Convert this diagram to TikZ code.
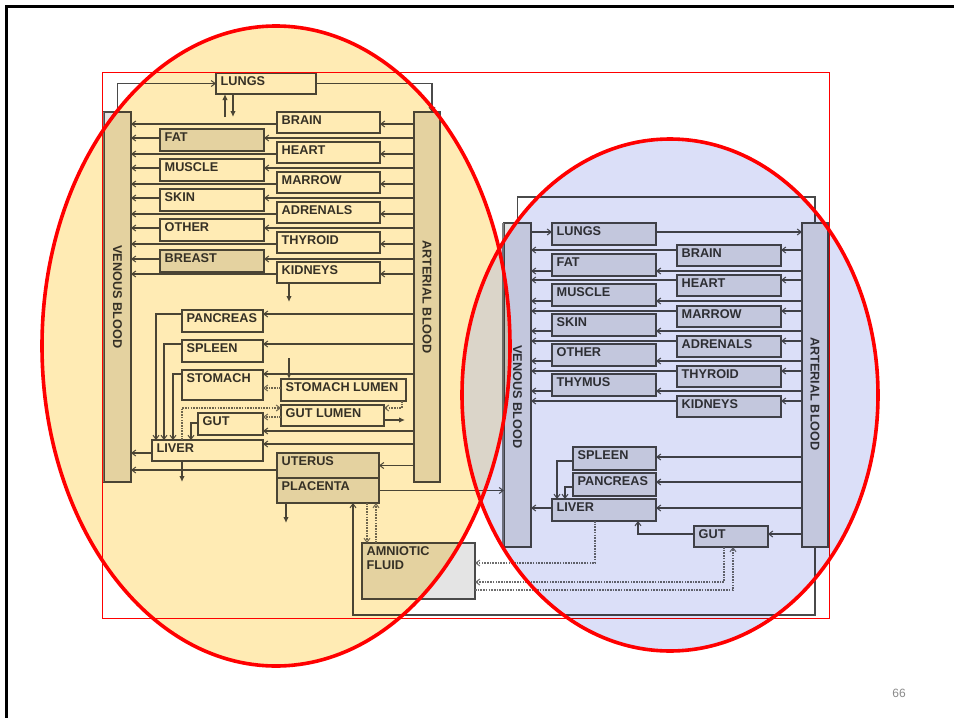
\documentclass[tikz,border=0pt]{standalone}
\usepackage{fontspec}
\setmainfont{Liberation Sans}
\usetikzlibrary{arrows.meta}
\definecolor{lc}{HTML}{4A4A4A}
\definecolor{tc}{HTML}{353535}
\definecolor{bf}{HTML}{E4E4E4}
\definecolor{yel}{HTML}{FFEBB4}
\definecolor{blu}{HTML}{DBDFF8}
\definecolor{ovl}{HTML}{FFF4CF}
\definecolor{pg}{HTML}{8A8A8A}
\newcommand\obox[7][]{\node[bx,minimum width=#5pt,minimum height=#6pt,label={[lab]north west:#7},#1] (#2) at (#3,#4) {};}
\newcommand\lellipse{(276,346) ellipse [x radius=234pt, y radius=320pt]}
\tikzset{
  bx/.style={draw=lc, line width=1.4pt, anchor=north west, inner sep=0pt, outer sep=0pt},
  lab/.style={anchor=north west, inner sep=0pt, xshift=4.5pt, yshift=-3.5pt, font=\bfseries\fontsize{12.7}{13.5}\selectfont, text=tc, align=left},
  vlab/.style={rotate=-90, inner sep=0pt, font=\bfseries\fontsize{12.7}{13.5}\selectfont, text=tc},
  filled/.style={fill=bf},
  ln/.style={draw=lc, line width=1.3pt},
  arr/.style={ln, -{Straight Barb[length=4pt,width=6pt,line width=1pt]}},
  farr/.style={ln, -{Latex[length=6pt,width=5.5pt]}},
  dot/.style={draw=lc!80, line width=1.4pt, dash pattern=on 1.6pt off 1.1pt},
  darr/.style={dot, -{Straight Barb[length=4pt,width=6pt,line width=1pt]}},
}
\begin{document}
\begin{tikzpicture}[x=1pt,y=-1pt]
\useasboundingbox (0,0) rectangle (954,718);
\fill[white] (0,0) rectangle (954,718);

% ---------------- maternal model ----------------
\node[bx, filled, minimum width=27pt, minimum height=370pt] (mven) at (104,112) {};
\node[bx, filled, minimum width=26pt, minimum height=370pt] (mart) at (414,112) {};
\node[vlab] (mvenlab) at (mven.center) {VENOUS BLOOD};
\node[vlab] (martlab) at (mart.center) {ARTERIAL BLOOD};
\draw[draw=lc!70, line width=2.5pt] ([xshift=-1pt]mven.north west) -- ([xshift=-1pt]mven.south west);

\obox{mlung}{216}{73}{100}{21}{LUNGS}

\obox{mbrain}{277}{112}{103}{21}{BRAIN}
\obox{mheart}{277}{142}{103}{21}{HEART}
\obox{mmarrow}{277}{172}{103}{21}{MARROW}
\obox{madren}{277}{202}{103}{21}{ADRENALS}
\obox{mthyr}{277}{232}{103}{21}{THYROID}
\obox{mkid}{277}{262}{103}{21}{KIDNEYS}

\obox[filled]{mfat}{160}{129}{104}{22}{FAT}
\obox{mmusc}{160}{159}{104}{22}{MUSCLE}
\obox{mskin}{160}{189}{104}{22}{SKIN}
\obox{mother}{160}{219}{104}{22}{OTHER}
\obox[filled]{mbreast}{160}{250}{104}{22}{BREAST}

\obox{mpanc}{182}{310}{81}{22}{PANCREAS}
\obox{msple}{182}{340}{81}{22}{SPLEEN}
\obox{mstom}{182}{370}{81}{30}{STOMACH}
\obox{mstl}{281}{379}{125}{22}{STOMACH LUMEN}
\obox{mgtl}{281}{405}{103}{21}{GUT LUMEN}
\obox{mgut}{198}{413}{65}{22}{GUT}
\obox{mliv}{152}{440}{111}{21}{LIVER}
\obox[filled]{mute}{277}{453}{102}{25}{UTERUS}
\obox[filled]{mpla}{277}{478}{102}{25}{PLACENTA}
\obox[filled]{amn}{362}{543}{113}{56}{AMNIOTIC\\FLUID}

% lungs loop
\draw[arr] (mven.north) |- (mlung.west);
\draw[arr] (mlung.east) -| ([xshift=5pt]mart.north);
\draw[farr] ([xshift=9pt,yshift=-23pt]mlung.south west) -- ([xshift=9pt]mlung.south west);
\draw[farr] ([xshift=17pt]mlung.south west) -- ([xshift=17pt,yshift=-23pt]mlung.south west);

\foreach \n in {mbrain,mheart,mmarrow,madren,mthyr,mkid} {
  \draw[arr] ([yshift=-1.5pt]\n.east -| mart.west) -- ([yshift=-1.5pt]\n.east);
  \draw[arr] ([yshift=-1.5pt]\n.west) -- ([yshift=-1.5pt]\n.west -| mven.east);
}
\foreach \n in {mfat,mmusc,mskin,mother,mbreast} {
  \draw[arr] ([yshift=2pt]\n.east -| mart.west) -- ([yshift=2pt]\n.east);
  \draw[arr] ([yshift=2pt]\n.west) -- ([yshift=2pt]\n.west -| mven.east);
}
\draw[farr] ([xshift=12pt]mkid.south west) -- ([xshift=12pt,yshift=-19pt]mkid.south west);

% splanchnic
\draw[arr] ([yshift=7pt]mpanc.east -| mart.west) -- ([yshift=7pt]mpanc.east);
\draw[arr] ([yshift=7pt]msple.east -| mart.west) -- ([yshift=7pt]msple.east);
\draw[arr] ([yshift=11pt]mstom.east -| mart.west) -- ([yshift=11pt]mstom.east);
\draw[arr] ([yshift=-7pt]mgut.east -| mart.west) -- ([yshift=-7pt]mgut.east);
\draw[arr] ([yshift=6.5pt]mliv.east -| mart.west) -- ([yshift=6.5pt]mliv.east);
\draw[arr] (mute.east -| mart.west) -- (mute.east);

\draw[arr] ([yshift=7pt]mpanc.west) -| ([xshift=4pt]mliv.north west);
\draw[arr] ([yshift=7pt]msple.west) -| ([xshift=12pt]mliv.north west);
\draw[arr] ([yshift=11pt]mstom.west) -| ([xshift=21pt]mliv.north west);
\draw[arr] ([yshift=1pt]mgut.west) -| ([xshift=39pt]mliv.north west);
\draw[arr] ([yshift=-2.5pt]mliv.west) -- ([yshift=-2.5pt]mliv.west -| mven.east);
\draw[arr] ([yshift=-4.5pt]mute.west) -- ([yshift=-4.5pt]mute.west -| mven.east);
\draw[farr] ([xshift=30pt]mliv.south west) -- ([xshift=30pt,yshift=-21pt]mliv.south west);

\coordinate (stin) at ([xshift=8pt,yshift=21pt]mstl.north west);
\draw[farr] (stin) -- (stin |- mstl.north);
\coordinate (gout) at ([xshift=21pt,yshift=-4.5pt]mgtl.east);
\draw[farr] ([yshift=-4.5pt]mgtl.east) -- (gout);

\draw[darr] ([yshift=2pt]mstl.west) -- ([yshift=2pt]mstl.west -| mstom.east);
\draw[darr] ([xshift=-4pt]mstl.south east) |- ([yshift=7.5pt]mgtl.east);
\draw[darr] ([yshift=-1.5pt]mgtl.west) -- ([yshift=-1.5pt]mgtl.west -| mgut.east);
\draw[darr] ([xshift=30pt]mliv.north west) |- ([yshift=7.5pt]mgtl.west);

\draw[farr] ([xshift=9pt]mpla.south west) -- ([xshift=9pt,yshift=-20pt]mpla.south west);
\draw[darr] ([xshift=5pt]amn.north west |- mpla.south) -- ([xshift=5pt]amn.north west);
\draw[darr] ([xshift=14pt]amn.north west) -- ([xshift=14pt]amn.north west |- mpla.south);

% ---------------- fetal model ----------------
\node[bx, filled, minimum width=27pt, minimum height=324pt] (fven) at (504,223) {};
\node[bx, filled, minimum width=26pt, minimum height=324pt] (fart) at (802,223) {};
\node[vlab] (fvenlab) at ([yshift=-12pt]fven.center) {VENOUS BLOOD};
\node[vlab] (fartlab) at ([yshift=-9pt]fart.center) {ARTERIAL BLOOD};
\draw[draw=lc!70, line width=2.5pt] ([xshift=-1pt]fven.north west) -- ([xshift=-1pt]fven.south west);

\obox[filled]{flung}{552}{223}{104}{22}{LUNGS}
\obox[filled]{ffat}{552}{254}{104}{22}{FAT}
\obox[filled]{fmusc}{552}{284}{104}{22}{MUSCLE}
\obox[filled]{fskin}{552}{314}{104}{22}{SKIN}
\obox[filled]{fother}{552}{344}{104}{22}{OTHER}
\obox[filled]{fthym}{552}{374}{104}{22}{THYMUS}

\obox[filled]{fbrain}{677}{245}{104}{21}{BRAIN}
\obox[filled]{fheart}{677}{275}{104}{21}{HEART}
\obox[filled]{fmarrow}{677}{306}{104}{21}{MARROW}
\obox[filled]{fadren}{677}{336}{104}{21}{ADRENALS}
\obox[filled]{fthyr}{677}{366}{104}{21}{THYROID}
\obox[filled]{fkid}{677}{396}{104}{21}{KIDNEYS}

\obox[filled]{fsple}{573}{447}{83}{23}{SPLEEN}
\obox[filled]{fpanc}{573}{473}{83}{23}{PANCREAS}
\obox[filled]{fliv}{552}{499}{104}{22}{LIVER}
\obox[filled]{fgut}{694}{526}{74}{21}{GUT}

\draw[ln] (fven.north) -- ++(0,-26) -| (fart.north);
\draw[arr] ([yshift=2pt]flung.west -| fven.east) -- ([yshift=2pt]flung.west);
\draw[arr] ([yshift=2pt]flung.east) -- ([yshift=2pt]flung.east -| fart.west);

\foreach \n in {fbrain,fheart,fmarrow,fadren,fthyr,fkid} {
  \draw[arr] ([yshift=5.5pt]\n.east -| fart.west) -- ([yshift=5.5pt]\n.east);
  \draw[arr] ([yshift=5.5pt]\n.west) -- ([yshift=5.5pt]\n.west -| fven.east);
}
\foreach \n in {ffat,fmusc,fskin,fother,fthym} {
  \draw[arr] ([yshift=-6pt]\n.east -| fart.west) -- ([yshift=-6pt]\n.east);
  \draw[arr] ([yshift=-6pt]\n.west) -- ([yshift=-6pt]\n.west -| fven.east);
}

\draw[arr] ([yshift=1.5pt]fsple.east -| fart.west) -- ([yshift=1.5pt]fsple.east);
\draw[arr] ([yshift=2.5pt]fpanc.east -| fart.west) -- ([yshift=2.5pt]fpanc.east);
\draw[arr] ([yshift=2pt]fliv.east -| fart.west) -- ([yshift=2pt]fliv.east);
\draw[arr] ([yshift=2.5pt]fgut.east -| fart.west) -- ([yshift=2.5pt]fgut.east);
\draw[arr] ([yshift=-2.5pt]fsple.west) -| ([xshift=5pt]fliv.north west);
\draw[arr] ([yshift=-2.5pt]fpanc.west) -| ([xshift=13pt]fliv.north west);
\draw[arr] ([yshift=2pt]fliv.west) -- ([yshift=2pt]fliv.west -| fven.east);
\draw[arr] ([yshift=2.5pt]fgut.west) -| ([xshift=86pt]fliv.south west);

% placenta exchange
\draw[arr] (mpla.east) -- (mpla.east -| fven.west);
\draw[arr, line width=1.6pt] (fart.south) -- ++(0,68) -| ([xshift=25pt]mpla.south);

% amniotic fluid exchange
\draw[darr] ([xshift=43pt]fliv.south west) |- ([yshift=8pt]amn.east);
\draw[darr] ([xshift=30pt]fgut.south west) |- ([yshift=-11pt]amn.east);
\draw[darr] ([yshift=-19pt]amn.east) -| ([xshift=39pt]fgut.south west);

% ---------------- overlays ----------------
\draw[red, line width=0.9pt] (102,72) rectangle (829,618);
\fill[blu, blend mode=multiply] (670,395) ellipse [x radius=208pt, y radius=256pt];
\begin{scope}
  \clip \lellipse;
  \fill[yel, even odd rule, blend mode=multiply] \lellipse (670,395) ellipse [x radius=208pt, y radius=256pt];
  \clip (670,395) ellipse [x radius=208pt, y radius=256pt];
  \fill[ovl, blend mode=multiply] \lellipse;
\end{scope}
\draw[red, line width=3.6pt] \lellipse;
\draw[red, line width=3.6pt] (670,395) ellipse [x radius=208pt, y radius=256pt];

\draw[black, line width=2.5pt] (6.3,718) -- (6.3,6.3) -- (954,6.3);
\node[text=pg, font=\fontsize{12}{14}\selectfont, inner sep=0pt] (pnum) at (899,693) {66};
\end{tikzpicture}
\end{document}
